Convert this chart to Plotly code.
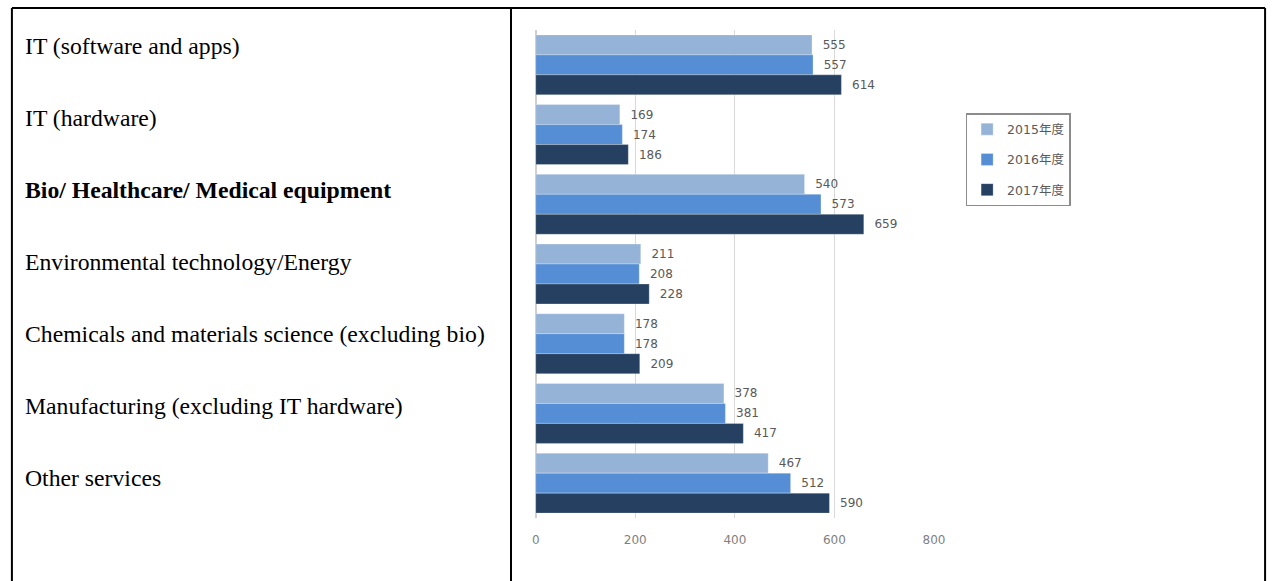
import plotly.graph_objects as go

W, H = 1283, 581

categories = [
    "IT (software and apps)",
    "IT (hardware)",
    "Bio/ Healthcare/ Medical equipment",
    "Environmental technology/Energy",
    "Chemicals and materials science (excluding bio)",
    "Manufacturing (excluding IT hardware)",
    "Other services",
]
bold_flags = [False, False, True, False, False, False, False]
series_names = ["2015年度", "2016年度", "2017年度"]
v2015 = [555, 169, 540, 211, 178, 378, 467]
v2016 = [557, 174, 573, 208, 178, 381, 512]
v2017 = [614, 186, 659, 228, 209, 417, 590]
colors = ["#95B3D7", "#558ED5", "#254061"]
x_ticks = [0, 200, 400, 600, 800]

fig = go.Figure()
for i, (name, vals) in enumerate(zip(series_names, [v2015, v2016, v2017])):
    fig.add_trace(go.Bar(
        y=categories, x=vals, name=name, orientation="h",
        marker=dict(color=colors[i], line=dict(width=0.6, color="rgba(255,255,255,0.45)")),
        text=vals, texttemplate="  %{x}", textposition="outside",
        textfont=dict(family="DejaVu Sans", size=12, color="#595959"),
        cliponaxis=False, legendgroup=name,
    ))

def px(x):
    return x / W

def py(y):
    return 1 - y / H

fig.update_layout(
    width=W, height=H, autosize=False, margin=dict(l=0, r=0, t=0, b=0),
    paper_bgcolor="white", plot_bgcolor="white",
    barmode="group", bargap=0.14, bargroupgap=0,
    showlegend=True,
    legend=dict(
        x=px(973), y=py(113), xanchor="left", yanchor="top",
        bordercolor="#8C8C8C", borderwidth=1.5, bgcolor="white",
        font=dict(family="DejaVu Sans, Noto Sans CJK JP", size=12.5, color="#595959"),
        tracegroupgap=11, itemwidth=30,
    ),
    xaxis=dict(
        domain=[px(538), px(941)], range=[0, 800],
        tickvals=x_ticks, showgrid=True, gridcolor="#D9D9D9", gridwidth=1,
        zeroline=True, zerolinecolor="#D0D0D0", zerolinewidth=2,
        showline=False, ticks="", ticklabelstandoff=13,
        tickfont=dict(family="DejaVu Sans", size=12, color="#7F7F7F"),
        fixedrange=True,
    ),
    yaxis=dict(
        domain=[py(518), py(30)], autorange="reversed",
        showticklabels=False, showgrid=False, zeroline=False, showline=False,
        ticks="", fixedrange=True,
    ),
)

# left-cell category labels
for i, (cat, b) in enumerate(zip(categories, bold_flags)):
    yc = 46 + i * 72
    fig.add_annotation(
        x=px(19.5), y=py(yc), xref="paper", yref="paper",
        xanchor="left", yanchor="middle", showarrow=False,
        text=f"<b>{cat}</b>" if b else cat,
        font=dict(family="Liberation Serif, Times New Roman, serif", size=23.7, color="black"),
    )

# table borders
border = dict(color="black", width=2)
fig.add_shape(type="line", xref="paper", yref="paper", x0=px(8), x1=px(1276), y0=py(8), y1=py(8), line=border)
fig.add_shape(type="line", xref="paper", yref="paper", x0=px(8), x1=px(8), y0=py(8), y1=0, line=border)
fig.add_shape(type="line", xref="paper", yref="paper", x0=px(513), x1=px(513), y0=py(8), y1=0, line=border)
fig.add_shape(type="line", xref="paper", yref="paper", x0=px(1276), x1=px(1276), y0=py(8), y1=0, line=border)

fig.write_html("out.html", config={"responsive": False})
